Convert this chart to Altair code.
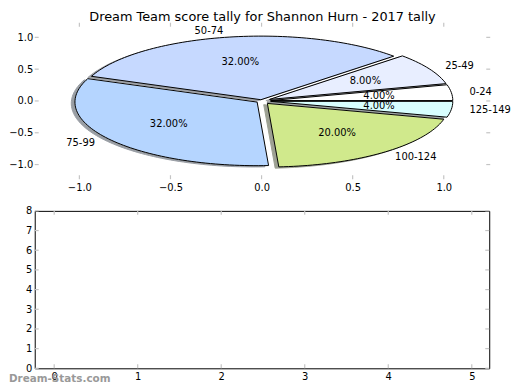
import altair as alt
import numpy as np
import pandas as pd

# ---------------- data ----------------
labels = ["0-24", "25-49", "50-74", "75-99", "100-124", "125-149"]
counts = [1, 2, 8, 8, 5, 1]
colors = ["#ffffff", "#e8eeff", "#c6d9ff", "#b5d5ff", "#d0e98c", "#d8ffff"]
explode = [0.05, 0.05, 0.02, 0.03, 0.05, 0.05]

pie_xticks = [-1.0, -0.5, 0.0, 0.5, 1.0]
pie_yticks = [-1.0, -0.5, 0.0, 0.5, 1.0]
bar_xticks = [0, 1, 2, 3, 4, 5]
bar_yticks = [0, 1, 2, 3, 4, 5, 6, 7, 8]

title_text = "Dream Team score tally for Shannon Hurn - 2017 tally"
watermark = "Dream-Stats.com"

FONT = "DejaVu Sans"
TICK = "#c4c4c4"

# ---------------- geometry of the (elliptical) exploded pie ----------------
def darker(hexcol, f=0.3):
    h = hexcol.lstrip("#")
    r, g, b = (int(h[i:i + 2], 16) for i in (0, 2, 4))
    return "#%02x%02x%02x" % (int(r * f), int(g * f), int(b * f))

total = float(sum(counts))
wedge_rows, shadow_rows, lab_rows, pct_rows = [], [], [], []
start = 0.0
for k, (lab, c, col, e) in enumerate(zip(labels, counts, colors, explode)):
    frac = c / total
    a0, a1 = 2 * np.pi * start, 2 * np.pi * (start + frac)
    mid = 0.5 * (a0 + a1)
    cx, cy = e * np.cos(mid), e * np.sin(mid)
    angs = np.linspace(a0, a1, max(6, int(frac * 240)))
    pts = [(cx, cy)] + [(cx + np.cos(a), cy + np.sin(a)) for a in angs]
    for i, (px, py) in enumerate(pts):
        wedge_rows.append({"slice": lab, "i": i, "x": px, "y": py, "fill": col})
        shadow_rows.append({"slice": lab, "i": i, "x": px - 0.02, "y": py - 0.02,
                            "fill": darker(col)})
    lab_rows.append({"x": cx + 1.1 * np.cos(mid), "y": cy + 1.1 * np.sin(mid), "text": lab})
    pct_rows.append({"x": cx + 0.6 * np.cos(mid), "y": cy + 0.6 * np.sin(mid),
                     "text": "%.2f%%" % (100 * frac)})
    start += frac

wedge_df = pd.DataFrame(wedge_rows)
shadow_df = pd.DataFrame(shadow_rows)
lab_df = pd.DataFrame(lab_rows)
pct_df = pd.DataFrame(pct_rows)

# ---------------- top panel (pie) ----------------
TW, TH = 460, 158
xs = alt.Scale(domain=[-1.245, 1.255], nice=False, zero=False)
ys = alt.Scale(domain=[-1.23, 1.23], nice=False, zero=False)
ax_common = dict(title=None, ticks=False, domain=False, grid=False)
top_xaxis = alt.Axis(values=pie_xticks, format=".1f", labelPadding=3, **ax_common)
top_yaxis = alt.Axis(values=pie_yticks, format=".1f", labelPadding=2, **ax_common)
TX = lambda f: alt.X(f, scale=xs, axis=top_xaxis)
TY = lambda f: alt.Y(f, scale=ys, axis=top_yaxis)


def inner_ticks(xvals, yvals, X, Y, W, H, L=4):
    xdf = pd.DataFrame({"x": xvals})
    ydf = pd.DataFrame({"y": yvals})
    rx = alt.Chart(xdf).mark_rule(color=TICK, strokeWidth=1.2)
    ry = alt.Chart(ydf).mark_rule(color=TICK, strokeWidth=1.2)
    return [
        rx.encode(x=X("x:Q"), y=alt.value(H), y2=alt.value(H - L)),
        rx.encode(x=X("x:Q"), y=alt.value(0), y2=alt.value(L)),
        ry.encode(y=Y("y:Q"), x=alt.value(0), x2=alt.value(L)),
        ry.encode(y=Y("y:Q"), x=alt.value(W), x2=alt.value(W - L)),
    ]


shadow = alt.Chart(shadow_df).mark_line(
    filled=True, interpolate="linear-closed", opacity=0.5, strokeWidth=1
).encode(
    x=TX("x:Q"), y=TY("y:Q"),
    detail="slice:N", order="i:Q",
    color=alt.Color("fill:N", scale=None),
    stroke=alt.Stroke("fill:N", scale=None),
)

wedges = alt.Chart(wedge_df).mark_line(
    filled=True, interpolate="linear-closed", stroke="black", strokeWidth=1
).encode(
    x=TX("x:Q"), y=TY("y:Q"),
    detail="slice:N", order="i:Q",
    color=alt.Color("fill:N", scale=None),
)

txt = dict(fontSize=10, font=FONT, color="black", baseline="middle")
labs_right = alt.Chart(lab_df).transform_filter("datum.x > 0").mark_text(align="left", **txt).encode(
    x=TX("x:Q"), y=TY("y:Q"), text="text:N")
labs_left = alt.Chart(lab_df).transform_filter("datum.x <= 0").mark_text(align="right", **txt).encode(
    x=TX("x:Q"), y=TY("y:Q"), text="text:N")
pcts = alt.Chart(pct_df).mark_text(align="center", **txt).encode(
    x=TX("x:Q"), y=TY("y:Q"), text="text:N")

top = alt.layer(
    *inner_ticks(pie_xticks, pie_yticks, TX, TY, TW, TH),
    shadow, wedges, labs_right, labs_left, pcts,
).properties(
    width=TW, height=TH,
    title=alt.TitleParams(title_text, fontSize=13, font=FONT, fontWeight="normal",
                          anchor="middle", frame="group", offset=-2, color="black"),
)

# ---------------- bottom panel (empty axes) ----------------
BW, BH = 459, 159
bxs = alt.Scale(domain=[-0.233, 5.209], nice=False, zero=False)
bys = alt.Scale(domain=[0, 8], nice=False, zero=False)
bot_xaxis = alt.Axis(values=bar_xticks, format="d", labelPadding=3, **ax_common)
bot_yaxis = alt.Axis(values=bar_yticks, format="d", labelPadding=3, **ax_common)
BX = lambda f: alt.X(f, scale=bxs, axis=bot_xaxis)
BY = lambda f: alt.Y(f, scale=bys, axis=bot_yaxis)

wm = alt.Chart(pd.DataFrame({"t": [watermark]})).mark_text(
    align="left", baseline="middle", fontSize=10.5, fontWeight="bold", font=FONT, color="#999999"
).encode(x=alt.value(-26), y=alt.value(BH + 11), text="t:N")

bottom = alt.layer(*inner_ticks(bar_xticks, bar_yticks, BX, BY, BW, BH), wm).properties(
    width=BW, height=BH,
    view=alt.ViewBackground(stroke="black", strokeWidth=1),
)

chart = alt.vconcat(top, bottom, spacing=32, bounds="flush").properties(
    padding={"left": 0, "top": 0, "right": 0, "bottom": 0}
).configure_view(stroke="transparent").configure_axis(
    labelFont=FONT, labelFontSize=10, labelColor="black"
)

chart.save("out.html", embed_options={"renderer": "svg", "actions": False})
